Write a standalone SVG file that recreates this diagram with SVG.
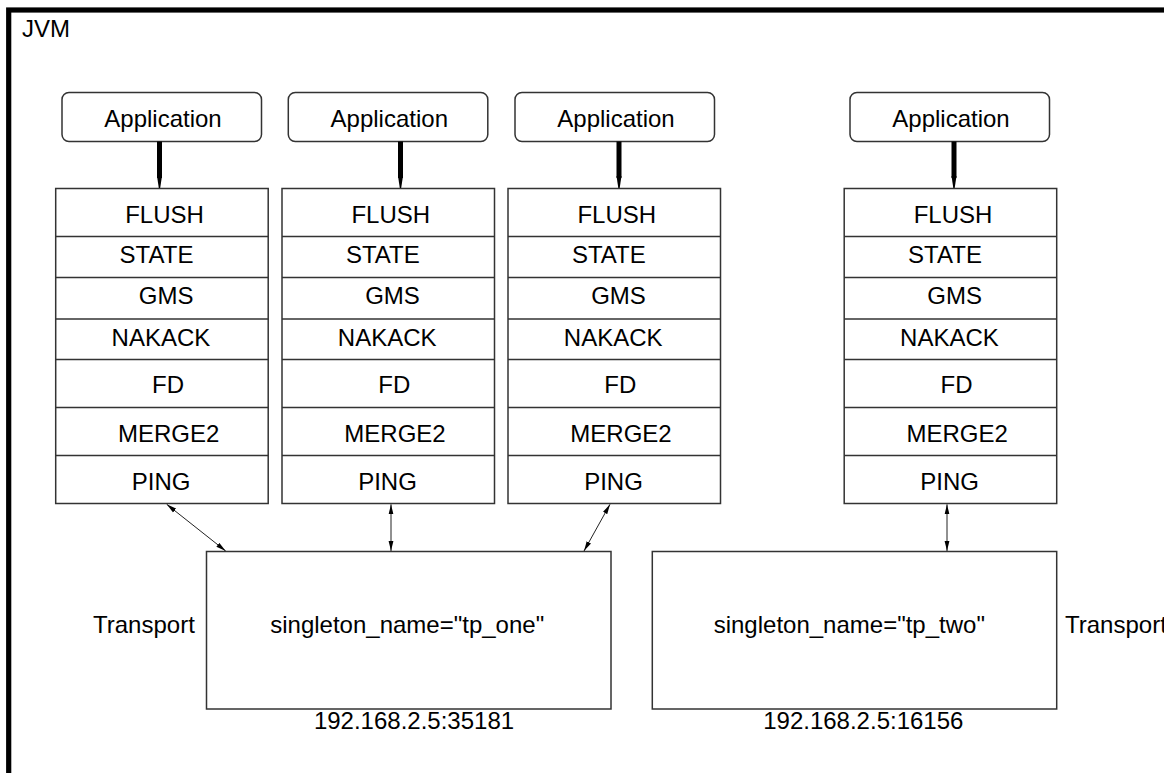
<svg xmlns="http://www.w3.org/2000/svg" width="1164" height="773" viewBox="0 0 1164 773">
  <style>
    text { font-family: "Liberation Sans", Arial, sans-serif; font-size: 24px; fill: #000; }
    .mid { text-anchor: middle; }
    .box { fill: #fff; stroke: #333; stroke-width: 1.5; }
    .row { stroke: #333; stroke-width: 1.5; }
    .link { stroke: #222; stroke-width: 1; fill: none; marker-start: url(#tip); marker-end: url(#tip); }
    .down { stroke: #000; stroke-width: 5; }
  </style>
  <defs>
    <marker id="tip" viewBox="0 0 10 6" refX="10" refY="3" markerWidth="10" markerHeight="6" markerUnits="userSpaceOnUse" orient="auto-start-reverse">
      <path d="M0,0.6 L10,3 L0,5.4 Z" fill="#000"/>
    </marker>
    <!-- one protocol stack, drawn at the origin -->
    <g id="stack">
      <rect class="box" x="0" y="0" width="212.5" height="315"/>
      <line class="row" x1="0" y1="48" x2="212.5" y2="48"/>
      <line class="row" x1="0" y1="89" x2="212.5" y2="89"/>
      <line class="row" x1="0" y1="130.5" x2="212.5" y2="130.5"/>
      <line class="row" x1="0" y1="171" x2="212.5" y2="171"/>
      <line class="row" x1="0" y1="219" x2="212.5" y2="219"/>
      <line class="row" x1="0" y1="267" x2="212.5" y2="267"/>
      <text class="mid" x="108.8" y="34">FLUSH</text>
      <text class="mid" x="100.8" y="74.2">STATE</text>
      <text class="mid" x="110.5" y="115.5">GMS</text>
      <text class="mid" x="105.2" y="157.2">NAKACK</text>
      <text class="mid" x="112.3" y="204.8">FD</text>
      <text class="mid" x="113" y="253.8">MERGE2</text>
      <text class="mid" x="105.5" y="301.5">PING</text>
    </g>
    <g id="app">
      <rect class="box" x="0" y="0" width="199.5" height="49" rx="7" ry="7"/>
      <text class="mid" x="101" y="34.2">Application</text>
    </g>
  </defs>

  <rect width="1164" height="773" fill="#fff"/>

  <!-- JVM boundary -->
  <g id="jvm">
    <rect x="8.7" y="10" width="1220" height="800" fill="none" stroke="#000" stroke-width="5.2"/>
    <text x="22" y="37">JVM</text>
  </g>

  <!-- applications -->
  <g id="app1"><use href="#app" x="62" y="92.5"/></g>
  <g id="app2"><use href="#app" x="288.3" y="92.5"/></g>
  <g id="app3"><use href="#app" x="515" y="92.5"/></g>
  <g id="app4"><use href="#app" x="850" y="92.5"/></g>

  <!-- protocol stacks -->
  <g id="stack1"><use href="#stack" x="55.7" y="188.5"/></g>
  <g id="stack2"><use href="#stack" x="282" y="188.5"/></g>
  <g id="stack3"><use href="#stack" x="508" y="188.5"/></g>
  <g id="stack4"><use href="#stack" x="844.2" y="188.5"/></g>

  <!-- shared transports -->
  <g id="transport1">
    <rect class="box" x="206.5" y="551.5" width="404.5" height="157.5"/>
    <text x="93" y="633">Transport</text>
    <text class="mid" x="407.2" y="632.7">singleton_name="tp_one"</text>
    <text class="mid" x="414" y="729.3">192.168.2.5:35181</text>
  </g>
  <g id="transport2">
    <rect class="box" x="652.3" y="551.5" width="404.4" height="157.5"/>
    <text x="1065" y="633">Transport</text>
    <text class="mid" x="849.3" y="632.7">singleton_name="tp_two"</text>
    <text class="mid" x="863.3" y="729.3">192.168.2.5:16156</text>
  </g>

  <!-- connectors -->
  <g id="connectors">
    <g id="app-links">
      <line class="down" x1="159.5" y1="141.5" x2="159.5" y2="178"/>
      <path d="M157,176 L162,176 L160.2,188 L158.8,188 Z" fill="#000"/>
      <line class="down" x1="400.5" y1="141.5" x2="400.5" y2="178"/>
      <path d="M398,176 L403,176 L401.2,188 L399.8,188 Z" fill="#000"/>
      <line class="down" x1="619" y1="141.5" x2="619" y2="178"/>
      <path d="M616.5,176 L621.5,176 L619.7,188 L618.3,188 Z" fill="#000"/>
      <line class="down" x1="954" y1="141.5" x2="954" y2="178"/>
      <path d="M951.5,176 L956.5,176 L954.7,188 L953.3,188 Z" fill="#000"/>
    </g>
    <g id="transport-links">
      <line class="link" x1="166.7" y1="504.3" x2="225.7" y2="551"/>
      <line class="link" x1="391" y1="504.3" x2="391" y2="551"/>
      <line class="link" x1="610" y1="504.3" x2="584" y2="551"/>
      <line class="link" x1="947" y1="504.3" x2="947" y2="551"/>
    </g>
  </g>
</svg>
